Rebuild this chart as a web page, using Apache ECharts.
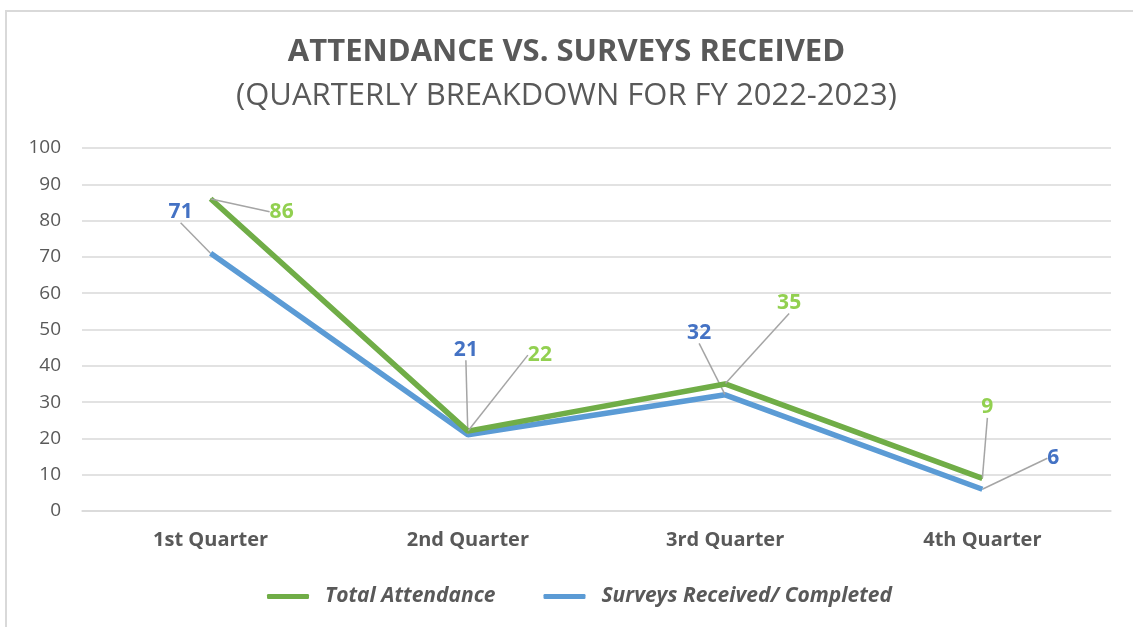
<!DOCTYPE html>
<html>
<head>
<meta charset="utf-8">
<script src="https://cdn.jsdelivr.net/npm/echarts@6/dist/echarts.min.js"></script>
<style>
  html, body { margin: 0; padding: 0; background: #fff; }
  #main { width: 1133px; height: 627px; }
</style>
</head>
<body>
<div id="main"></div>
<script>
// data
var quarters = ['1st Quarter', '2nd Quarter', '3rd Quarter', '4th Quarter'];
var totalAttendance = [86, 22, 35, 9];
var surveysReceived = [71, 21, 32, 6];
var yTicks = [0, 100, 10]; // min, max, step

// label offsets (px) from each point, like the excel callouts
var attOffsets = [[71, 13], [72, -76], [64, -81], [5, -71]];
var survOffsets = [[-30, -41], [-2, -85], [-26, -62], [71, -31]];

var chart = echarts.init(document.getElementById('main'));

function mkLayout(offs) {
  return function (p) {
    var o = offs[p.dataIndex];
    return { dx: o[0], dy: o[1] };
  };
}

var option = {
  backgroundColor: '#fff',
  animation: false,
  textStyle: { fontFamily: 'Open Sans' },
  title: [
    {
      text: 'ATTENDANCE VS. SURVEYS RECEIVED',
      left: 'center', top: 32,
      textStyle: { fontSize: 31, fontWeight: 'bold', color: '#595959', fontFamily: 'Open Sans' }
    },
    {
      text: '(QUARTERLY BREAKDOWN FOR FY 2022-2023)',
      left: 'center', top: 76,
      textStyle: { fontSize: 31, fontWeight: 'normal', color: '#595959', fontFamily: 'Open Sans' }
    }
  ],
  graphic: [{
    type: 'rect',
    shape: { x: 6, y: 11, width: 1200, height: 700 },
    style: { fill: 'none', stroke: '#D9D9D9', lineWidth: 2 },
    silent: true
  }],
  grid: { left: 82, right: 22, top: 148, bottom: 116 },
  legend: {
    bottom: 15,
    left: 262,
    itemWidth: 42,
    itemHeight: 5,
    itemGap: 48,
    icon: 'roundRect',
    textStyle: {
      fontSize: 21, fontStyle: 'italic', fontWeight: 'bold', color: '#595959',
      fontFamily: 'Open Sans', padding: [0, 0, 0, 11]
    },
    data: ['Total Attendance', 'Surveys Received/ Completed']
  },
  xAxis: {
    type: 'category',
    data: quarters,
    boundaryGap: true,
    axisLine: { show: true, lineStyle: { color: '#D9D9D9', width: 1.5 } },
    axisTick: { show: false },
    axisLabel: { fontSize: 20, fontWeight: 'bold', color: '#595959', margin: 19, fontFamily: 'Open Sans' }
  },
  yAxis: {
    type: 'value',
    min: yTicks[0], max: yTicks[1], interval: yTicks[2],
    axisLine: { show: false },
    axisTick: { show: false },
    splitLine: { lineStyle: { color: '#D9D9D9', width: 1.5 } },
    axisLabel: { fontSize: 19, color: '#595959', margin: 21, fontFamily: 'Open Sans' }
  },
  series: [
    {
      name: 'Total Attendance',
      type: 'line',
      data: totalAttendance,
      z: 3,
      symbol: 'circle',
      symbolSize: 1,
      showSymbol: true,
      itemStyle: { color: '#70AD47' },
      lineStyle: { color: '#70AD47', width: 5.5 },
      label: {
        show: true, position: 'inside',
        fontSize: 21, fontWeight: 'bold', color: '#92D050', fontFamily: 'Open Sans'
      },
      labelLine: { show: true, lineStyle: { color: '#A5A5A5', width: 1.5 } },
      labelLayout: mkLayout(attOffsets)
    },
    {
      name: 'Surveys Received/ Completed',
      type: 'line',
      data: surveysReceived,
      z: 2,
      symbol: 'circle',
      symbolSize: 1,
      showSymbol: true,
      itemStyle: { color: '#5B9BD5' },
      lineStyle: { color: '#5B9BD5', width: 5.5 },
      label: {
        show: true, position: 'inside',
        fontSize: 21, fontWeight: 'bold', color: '#4472C4', fontFamily: 'Open Sans'
      },
      labelLine: { show: true, lineStyle: { color: '#A5A5A5', width: 1.5 } },
      labelLayout: mkLayout(survOffsets)
    }
  ]
};

chart.setOption(option);
</script>
</body>
</html>
